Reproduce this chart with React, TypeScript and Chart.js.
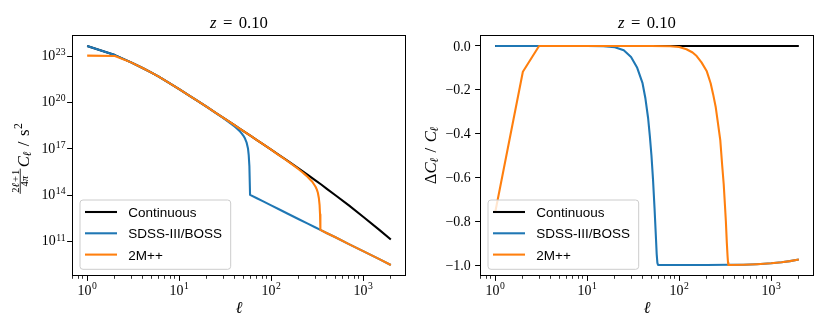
import React, { useEffect, useRef } from "react";
import { Chart, registerables } from "chart.js";

Chart.register(...registerables);

// ---------------- data ----------------
// Left panel: (2l+1)/(4pi) C_l  [s^2]
const ELL_CONT = [1, 2, 3, 4, 5, 6, 8, 10, 13, 16, 20, 25, 30, 35, 40, 45, 50, 60, 70, 80, 100, 120, 150, 200, 250, 300, 350, 400, 500, 700, 1000, 1500, 2000];
const CL_CONT = [4.47e23, 1.15e23, 3.89e22, 1.7e22, 8.51e21, 4.68e21, 1.66e21, 7.24e20, 2.69e20, 1.23e20, 5.13e19, 2.14e19, 1.05e19, 5.75e18, 3.39e18, 2.14e18, 1.41e18, 6.92e17, 3.72e17, 2.19e17, 8.91e16, 4.27e16, 1.74e16, 5.37e15, 2.09e15, 9.77e14, 5.01e14, 2.75e14, 1.02e14, 2.24e13, 4.17e12, 5.89e11, 1.41e11];

const ELL_SDSS = [1, 2, 3, 4, 5, 6, 8, 10, 13, 16, 20, 25, 30, 35, 40, 43, 46, 48, 50, 52, 54, 56, 57, 58, 59, 70, 80, 100, 120, 150, 200, 250, 300, 343, 400, 500, 700, 1000, 1500, 2000];
const CL_SDSS = [4.47e23, 1.15e23, 3.89e22, 1.7e22, 8.51e21, 4.68e21, 1.66e21, 7.24e20, 2.69e20, 1.23e20, 5.13e19, 2.09e19, 1.0e19, 5.13e18, 2.82e18, 1.95e18, 1.32e18, 9.77e17, 7.08e17, 4.68e17, 2.69e17, 1.07e17, 4.17e16, 7.76e15, 1.07e14, 6.46e13, 4.37e13, 2.24e13, 1.32e13, 6.76e12, 2.88e12, 1.48e12, 8.71e11, 5.89e11, 3.72e11, 1.95e11, 7.08e10, 2.51e10, 7.59e9, 3.16e9];

const ELL_2MPP = [1, 2, 3, 4, 5, 6, 8, 10, 13, 16, 20, 25, 30, 35, 40, 45, 50, 60, 70, 80, 100, 120, 140, 155, 175, 199, 220, 234, 250, 265, 280, 293, 305, 314, 322, 330, 336, 340, 343, 400, 500, 700, 1000, 1500, 2000];
const CL_2MPP = [1.07e23, 1.01e23, 3.89e22, 1.7e22, 8.51e21, 4.68e21, 1.66e21, 7.24e20, 2.69e20, 1.23e20, 5.13e19, 2.14e19, 1.05e19, 5.75e18, 3.39e18, 2.14e18, 1.41e18, 6.92e17, 3.72e17, 2.19e17, 8.87e16, 4.17e16, 2.24e16, 1.45e16, 8.71e15, 4.9e15, 3.02e15, 2.19e15, 1.55e15, 1.07e15, 7.59e14, 5.01e14, 3.47e14, 2.34e14, 1.48e14, 6.76e13, 2.45e13, 5.89e12, 5.89e11, 3.72e11, 1.95e11, 7.08e10, 2.51e10, 7.59e9, 3.16e9];

// Right panel: Delta C_l / C_l
const ELL_DC_CONT = [1, 2000];
const DC_CONT = [0, 0];

const ELL_DC_SDSS = [1, 2, 3, 5, 10, 15, 20, 25, 30, 35, 40, 43, 46, 48, 50, 52, 54, 56, 57, 58, 59, 100, 200, 343, 500, 700, 1000, 1300, 1600, 2000];
const DC_SDSS = [0, 0, 0, 0, 0, -0.001, -0.006, -0.02, -0.05, -0.1, -0.17, -0.24, -0.33, -0.41, -0.5, -0.61, -0.74, -0.88, -0.95, -0.99, -1.0, -1.0, -1.0, -0.9988, -0.9985, -0.996, -0.992, -0.987, -0.982, -0.975];

const ELL_DC_2MPP = [1, 2, 3, 10, 50, 80, 100, 120, 140, 155, 175, 199, 220, 234, 250, 265, 280, 293, 305, 314, 322, 330, 336, 340, 343, 500, 700, 1000, 1300, 1600, 2000];
const DC_2MPP = [-0.76, -0.118, 0, 0, 0, -0.001, -0.005, -0.015, -0.03, -0.046, -0.075, -0.114, -0.17, -0.22, -0.28, -0.357, -0.43, -0.54, -0.63, -0.72, -0.8, -0.9, -0.96, -0.99, -1.0, -0.9985, -0.996, -0.992, -0.987, -0.982, -0.975];

const SERIES_LABELS = ["Continuous", "SDSS-III/BOSS", "2M++"];
const SERIES_COLORS = ["#000000", "#1f77b4", "#ff7f0e"];
const TITLE_VALUE = "0.10";

// axis limits and ticks
const X_MIN = 0.684;
const X_MAX = 2924;
const X_MAJOR = [1, 10, 100, 1000];
const X_MINOR = [0.7, 0.8, 0.9, 2, 3, 4, 5, 6, 7, 8, 9, 20, 30, 40, 50, 60, 70, 80, 90, 200, 300, 400, 500, 600, 700, 800, 900, 2000];
const YL_MIN = 6.17e8;
const YL_MAX = 2.29e24;
const YL_TICKS = [1e11, 1e14, 1e17, 1e20, 1e23];
const YR_MIN = -1.05;
const YR_MAX = 0.05;
const YR_TICKS = [-1.0, -0.8, -0.6, -0.4, -0.2, 0.0];

// ---------------- drawing helpers ----------------
const SERIF = '"Liberation Serif", "DejaVu Serif", serif';
const SANS = '"Liberation Sans", "DejaVu Sans", sans-serif';
const fnt = (size: number, italic = false) => `${italic ? "italic " : ""}${size}px ${SERIF}`;

type Run = { t: string; font: string; dy?: number; pl?: number; pr?: number };

function runsWidth(ctx: CanvasRenderingContext2D, runs: Run[]) {
  let w = 0;
  for (const r of runs) {
    ctx.font = r.font;
    w += (r.pl || 0) + ctx.measureText(r.t).width + (r.pr || 0);
  }
  return w;
}
function drawRuns(ctx: CanvasRenderingContext2D, runs: Run[], x: number, y: number) {
  let cx = x;
  ctx.textAlign = "left";
  ctx.textBaseline = "alphabetic";
  for (const r of runs) {
    ctx.font = r.font;
    cx += r.pl || 0;
    ctx.fillText(r.t, cx, y + (r.dy || 0));
    cx += ctx.measureText(r.t).width + (r.pr || 0);
  }
  return cx;
}
function pow10Runs(v: number, supDy: number): Run[] {
  const e = Math.round(Math.log10(v));
  return [
    { t: "10", font: fnt(13.9) },
    { t: String(e), font: fnt(9.7), dy: supDy, pl: 0.5 },
  ];
}
function snap(v: number) {
  return Math.floor(v) + 0.5;
}

const decorPlugin = {
  id: "decor",
  afterDraw(chart: any, _args: any, opts: any) {
    const ctx: CanvasRenderingContext2D = chart.ctx;
    const a = chart.chartArea;
    const xs = chart.scales.x;
    const ys = chart.scales.y;
    const isLeft = opts.kind === "left";
    ctx.save();
    ctx.fillStyle = "#000";
    ctx.strokeStyle = "#000";

    // frame
    ctx.lineWidth = 1;
    ctx.strokeRect(a.left + 0.5, a.top + 0.5, a.right - a.left - 1, a.bottom - a.top - 1);

    // x ticks
    ctx.beginPath();
    for (const v of X_MAJOR) {
      const x = snap(xs.getPixelForValue(v));
      ctx.moveTo(x, a.bottom);
      ctx.lineTo(x, a.bottom + 4.9);
    }
    ctx.lineWidth = 1;
    ctx.stroke();
    ctx.beginPath();
    for (const v of X_MINOR) {
      if (v < xs.min || v > xs.max) continue;
      const x = snap(xs.getPixelForValue(v));
      ctx.moveTo(x, a.bottom);
      ctx.lineTo(x, a.bottom + 2.8);
    }
    ctx.lineWidth = 0.8;
    ctx.stroke();
    for (const v of X_MAJOR) {
      const runs = pow10Runs(v, -5.7);
      const w = runsWidth(ctx, runs);
      drawRuns(ctx, runs, xs.getPixelForValue(v) - w / 2, a.bottom + 19);
    }

    // y ticks
    const yt = isLeft ? YL_TICKS : YR_TICKS;
    ctx.beginPath();
    for (const v of yt) {
      const y = snap(ys.getPixelForValue(v));
      ctx.moveTo(a.left, y);
      ctx.lineTo(a.left - 4.9, y);
    }
    ctx.lineWidth = 1;
    ctx.stroke();
    for (const v of yt) {
      const py = ys.getPixelForValue(v);
      if (isLeft) {
        const runs = pow10Runs(v, -4.8);
        const w = runsWidth(ctx, runs);
        drawRuns(ctx, runs, a.left - 6.5 - w, py + 3.6);
      } else {
        const txt = Math.abs(v) < 1e-9 ? "0.0" : "\u2212" + Math.abs(v).toFixed(1);
        ctx.font = fnt(13.9);
        ctx.textAlign = "right";
        ctx.textBaseline = "alphabetic";
        ctx.fillText(txt, a.left - 9.3, py + 4.6);
      }
    }

    const cx = (a.left + a.right) / 2;
    // title
    {
      const runs: Run[] = [
        { t: "z", font: fnt(16.7, true) },
        { t: "=", font: fnt(16.7), pl: 6.4, pr: 6.4 },
        { t: TITLE_VALUE, font: fnt(16.7) },
      ];
      const w = runsWidth(ctx, runs);
      drawRuns(ctx, runs, cx - w / 2, 28.3);
    }
    // x label
    {
      const runs: Run[] = [{ t: "\u2113", font: fnt(16.7, true) }];
      const w = runsWidth(ctx, runs);
      drawRuns(ctx, runs, cx - w / 2, 313.3);
    }
    // y label
    const cy = (a.top + a.bottom) / 2;
    if (isLeft) {
      ctx.save();
      ctx.translate(28.5, cy + 3);
      ctx.rotate(-Math.PI / 2);
      const sm = 10.5;
      const num: Run[] = [
        { t: "2", font: fnt(sm) },
        { t: "\u2113", font: fnt(sm, true) },
        { t: "+", font: fnt(sm), pl: 1.2, pr: 1.2 },
        { t: "1", font: fnt(sm) },
      ];
      const den: Run[] = [
        { t: "4", font: fnt(sm) },
        { t: "\u03c0", font: fnt(sm, true) },
      ];
      const rest: Run[] = [
        { t: "C", font: fnt(16.7, true), pl: 1.5 },
        { t: "\u2113", font: fnt(11.7, true), dy: 2.5, pl: -0.5 },
        { t: "/", font: fnt(16.7), pl: 5.5, pr: 5.5 },
        { t: "s", font: fnt(16.7) },
        { t: "2", font: fnt(11.7), dy: -6.5, pl: 0.5 },
      ];
      const wn = runsWidth(ctx, num);
      const wd = runsWidth(ctx, den);
      const fw = Math.max(wn, wd) + 2;
      const wr = runsWidth(ctx, rest);
      const u = -(fw + wr) / 2;
      drawRuns(ctx, num, u + (fw - wn) / 2, -10);
      ctx.fillRect(u, -8.7, fw, 0.8);
      drawRuns(ctx, den, u + (fw - wd) / 2, -0.3);
      drawRuns(ctx, rest, u + fw, 0);
      ctx.restore();
    } else {
      ctx.save();
      ctx.translate(20.5, cy);
      ctx.rotate(-Math.PI / 2);
      const runs: Run[] = [
        { t: "\u0394", font: fnt(16.7) },
        { t: "C", font: fnt(16.7, true) },
        { t: "\u2113", font: fnt(11.7, true), dy: 2.5, pl: -0.5 },
        { t: "/", font: fnt(16.7), pl: 5.5, pr: 5.5 },
        { t: "C", font: fnt(16.7, true) },
        { t: "\u2113", font: fnt(11.7, true), dy: 2.5, pl: -0.5 },
      ];
      const w = runsWidth(ctx, runs);
      drawRuns(ctx, runs, -w / 2, 0);
      ctx.restore();
    }

    // legend (lower left, inside axes)
    {
      const x0 = a.left + 8;
      const y0 = a.top + 165;
      const w = 150.7;
      const h = a.bottom - 6.7 - y0;
      const r = 3;
      ctx.beginPath();
      ctx.moveTo(x0 + r, y0);
      ctx.lineTo(x0 + w - r, y0);
      ctx.arcTo(x0 + w, y0, x0 + w, y0 + r, r);
      ctx.lineTo(x0 + w, y0 + h - r);
      ctx.arcTo(x0 + w, y0 + h, x0 + w - r, y0 + h, r);
      ctx.lineTo(x0 + r, y0 + h);
      ctx.arcTo(x0, y0 + h, x0, y0 + h - r, r);
      ctx.lineTo(x0, y0 + r);
      ctx.arcTo(x0, y0, x0 + r, y0, r);
      ctx.closePath();
      ctx.fillStyle = "rgba(255,255,255,0.8)";
      ctx.fill();
      ctx.strokeStyle = "#cccccc";
      ctx.lineWidth = 1;
      ctx.stroke();
      const datasets = chart.data.datasets;
      for (let i = 0; i < datasets.length; i++) {
        const ry = a.top + 177 + i * 21.3;
        ctx.beginPath();
        ctx.moveTo(a.left + 13, ry);
        ctx.lineTo(a.left + 45, ry);
        ctx.strokeStyle = datasets[i].borderColor;
        ctx.lineWidth = 2.08;
        ctx.lineCap = "butt";
        ctx.stroke();
        ctx.fillStyle = "#000";
        ctx.font = `13.5px ${SANS}`;
        ctx.textAlign = "left";
        ctx.textBaseline = "alphabetic";
        ctx.fillText(datasets[i].label, a.left + 56.3, ry + 5);
      }
    }
    ctx.restore();
  },
};

function pts(xs: number[], ys: number[]) {
  return xs.map((x, i) => ({ x, y: ys[i] }));
}

function makeConfig(kind: "left" | "right"): any {
  const isLeft = kind === "left";
  const series = isLeft
    ? [pts(ELL_CONT, CL_CONT), pts(ELL_SDSS, CL_SDSS), pts(ELL_2MPP, CL_2MPP)]
    : [pts(ELL_DC_CONT, DC_CONT), pts(ELL_DC_SDSS, DC_SDSS), pts(ELL_DC_2MPP, DC_2MPP)];
  const datasets = series.map((data, i) => ({
    label: SERIES_LABELS[i],
    data,
    borderColor: SERIES_COLORS[i],
    backgroundColor: SERIES_COLORS[i],
    borderWidth: 2.08,
    pointRadius: 0,
    pointHoverRadius: 0,
    tension: 0,
    fill: false,
    borderJoinStyle: "round",
    borderCapStyle: "butt",
    order: 2 - i,
  }));
  const hidden = {
    ticks: { display: false },
    grid: { display: false },
    border: { display: false },
    title: { display: false },
    bounds: "data",
  };
  return {
    type: "line",
    data: { datasets },
    options: {
      animation: false,
      responsive: false,
      maintainAspectRatio: false,
      devicePixelRatio: 1,
      events: [],
      layout: { padding: { left: 0, right: isLeft ? 9 : 16, top: 35, bottom: 0 } },
      plugins: {
        legend: { display: false },
        title: { display: false },
        tooltip: { enabled: false },
        decor: { kind },
      },
      scales: {
        x: {
          type: "logarithmic",
          min: X_MIN,
          max: X_MAX,
          ...hidden,
          afterFit: (s: any) => {
            s.height = 56;
          },
        },
        y: isLeft
          ? {
              type: "logarithmic",
              min: YL_MIN,
              max: YL_MAX,
              ...hidden,
              afterFit: (s: any) => {
                s.width = 72;
              },
            }
          : {
              type: "linear",
              min: YR_MIN,
              max: YR_MAX,
              ...hidden,
              afterFit: (s: any) => {
                s.width = 65;
              },
            },
      },
    },
    plugins: [decorPlugin],
  };
}

function Panel({ kind, left }: { kind: "left" | "right"; left: number }) {
  const ref = useRef<HTMLCanvasElement>(null);
  useEffect(() => {
    const chart = new Chart(ref.current as HTMLCanvasElement, makeConfig(kind));
    return () => chart.destroy();
  }, [kind]);
  return (
    <canvas
      ref={ref}
      width={415}
      height={332}
      style={{ position: "absolute", left, top: 0, width: 415, height: 332, display: "block" }}
    />
  );
}

export default function App() {
  return (
    <div style={{ position: "absolute", left: 0, top: 0, width: 830, height: 332, background: "#fff" }}>
      <Panel kind="left" left={0} />
      <Panel kind="right" left={415} />
    </div>
  );
}
